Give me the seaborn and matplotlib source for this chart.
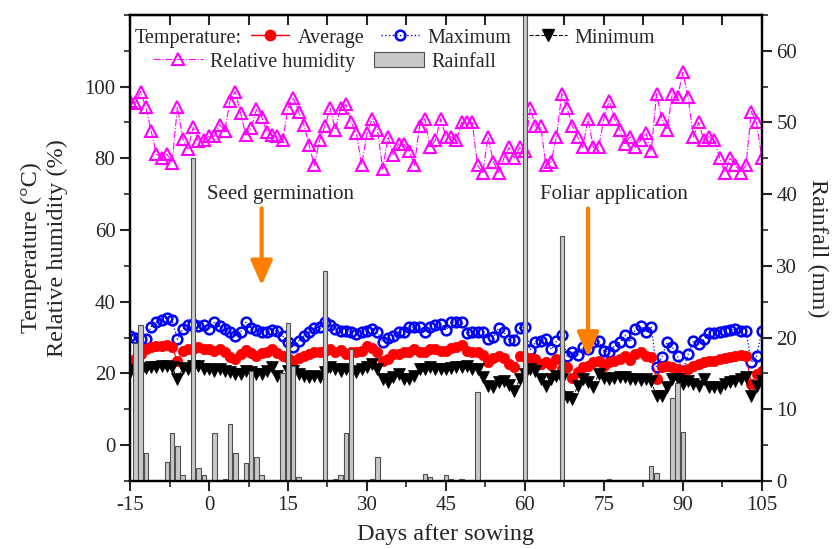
import numpy as np
import matplotlib
matplotlib.use("Agg")
import matplotlib.pyplot as plt
import seaborn as sns
from matplotlib.lines import Line2D
from matplotlib.patches import Patch
from matplotlib.ticker import MultipleLocator

days = np.arange(-15, 106)

rh = [96, 95.5, 98.6, 94.2, 87.7, 81.1, 80.2, 81.1, 78.8, 94.4,
      85.5, 82.5, 88.6, 84.7, 85.2, 86.1, 86.1, 89.4, 87.7, 96.1,
      98.6, 92.5, 86.4, 88.3, 93.6, 91.6, 87.2, 86.4, 86.1, 85.0,
      93.9, 96.9, 93.0, 89.4, 83.8, 78.0, 85.0, 88.9, 93.9, 88.0,
      94, 95, 90, 87, 78, 87, 91, 88, 77, 86,
      81, 84, 84, 82, 78, 89, 91, 83, 85, 91,
      86, 86, 85, 90, 90, 90, 78, 76, 86, 79,
      76, 80, 83, 80, 83, 82, 94, 89, 89, 78,
      79, 86, 98, 94, 89, 86, 83, 91, 83, 83,
      91, 96, 91, 88, 84, 86, 83, 85, 87, 82,
      98, 91, 88, 98, 97, 104, 97, 86, 90, 85,
      86, 85, 80, 76, 80, 78, 76, 78, 93, 90,
      80]

t_max = [30.5, 30, 29.5, 29.5, 33, 34.3, 34.8, 35.5, 34.8, 29.5,
         32.3, 33.5, 33.7, 33.2, 33.4, 32.3, 34.2, 33.1, 32.3, 31.5,
         30.4, 31.5, 34.2, 32.6, 32, 31.5, 31.5, 32, 31.8, 30.4,
         28.7, 27.3, 29, 30.4, 31.5, 32.6, 32.9, 34.3, 33.5, 32.3,
         31.8, 31.8, 31.5, 31, 31.5, 31.8, 32.3, 31.5, 28.7, 29.8,
         30.4, 31.5, 31.5, 32.9, 32.9, 32.9, 31.5, 32.9, 33.4, 33.7,
         32, 34.3, 34.3, 34.3, 31.2, 31.5, 31.5, 31.5, 29.5, 30.1,
         32.6, 31.5, 29.2, 29.2, 32.6, 32.9, 26.5, 28.7, 29, 29.5,
         26.7, 29, 30.6, 24.8, 25.9, 25.1, 27.3, 26.7, 28.7, 29,
         26.2, 25.9, 27.6, 28.7, 30.6, 28.7, 32.3, 33.1, 31.5, 32.9,
         21.7, 24.5, 28.7, 27.3, 24.8, 20.6, 25.3, 29, 28.1, 29.5,
         31.2, 31.2, 31.5, 31.8, 32, 32.3, 31.8, 31.8, 23.1, 24.8,
         31.8]

t_avg = [23, 24, 25.5, 26.7, 27.3, 27.6, 27.6, 27.9, 27.3, 23.4,
         26.2, 26.7, 26.7, 27.3, 26.7, 26.7, 26.2, 26.7, 25.9, 24.5,
         24, 25.3, 26.5, 25.6, 24.8, 25.6, 25.9, 26.7, 25.6, 24.8,
         24.2, 23.4, 24.2, 24.8, 25.3, 25.9, 25.9, 26.2, 26.7, 25.9,
         26.5, 25.3, 25.9, 25.9, 26.2, 27.6, 27, 25.9, 23.4, 24,
         25.3, 25.3, 25.9, 25.9, 26.7, 25.9, 25.9, 26.7, 26.7, 26.2,
         26.2, 27, 27.3, 27.9, 26.2, 25.9, 25.9, 25.1, 23.1, 24.2,
         24.8, 24.2, 22.6, 21.7, 24.8, 24.5, 24.2, 24, 22.6, 23.1,
         22.3, 24, 21.2, 21.7, 18.7, 20.3, 21.7, 22, 23.1, 23.4,
         22, 23.1, 23.4, 24, 24.8, 23.7, 25.3, 25.9, 24.8, 24.5,
         18.4, 21.7, 22, 21.7, 21.2, 18.7, 21.2, 22, 22.6, 23.1,
         23.4, 23.4, 24, 24.2, 24.5, 24.8, 25.1, 24.8, 17, 19.8,
         20.6]

t_min = [20.5, 21, 20.6, 21.4, 21.7, 21.7, 22, 22, 21.7, 18.4,
         21.4, 21.2, 22, 22, 21.2, 21.2, 20.6, 21.2, 20.6, 20.3,
         19.8, 19.8, 20.6, 20.3, 19.8, 19.8, 20.6, 21.7, 19.2, 18.4,
         20.6, 20.6, 19.8, 19.2, 18.9, 19.2, 18.9, 20.3, 21.7, 21.2,
         20.6, 21.2, 20.6, 20.3, 21.2, 21.7, 22.6, 21.2, 18.4, 17.5,
         18.9, 19.8, 18.4, 18.4, 19.2, 21.2, 21.2, 21.7, 21.2, 21.2,
         21.2, 21.4, 21.7, 21.7, 22, 21.2, 21.2, 18.9, 16.4, 16.2,
         17.5, 17.8, 16.7, 15, 18.4, 19.8, 21.2, 20.6, 18.4, 16.4,
         18.4, 19.2, 18.4, 13.4, 12.8, 16.4, 18.4, 17.5, 16.2, 19.8,
         18.7, 18.4, 18.7, 18.9, 18.9, 18.4, 18.4, 18.1, 18.4, 17.8,
         13.6, 13.6, 16.2, 18.4, 18.4, 17, 17.8, 17, 16.4, 18.4,
         16.2, 16.2, 15.9, 17, 17.5, 17.8, 18.4, 18.9, 13.6, 16.4,
         17.8]

rain_days = [-14, -13, -12, -8, -7, -6, -5, -3, -2, -1, 1, 3, 4, 5, 7, 8, 9, 10,
             14, 15, 16, 17, 22, 24, 25, 26, 27, 31, 32, 41, 42, 45, 46, 48, 51,
             60, 67, 76, 84, 85, 88, 89, 90]
rain_mm = [19.2, 21.7, 3.9, 2.6, 6.7, 4.9, 0.8, 45, 1.8, 0.8, 6.7, 0.3, 7.9, 3.9, 2.5, 15.3, 3.3, 0.8,
           15, 22, 16, 0.5, 29.3, 0.3, 0.8, 6.7, 18.4, 0.3, 3.3, 1, 0.5, 0.8, 0.3, 0.3, 12.4,
           70, 34.1, 0.3, 2.1, 1.1, 11.6, 13.6, 6.8]

sns.set_style("ticks")
plt.rcParams['font.family'] = ['Liberation Serif', 'DejaVu Serif']
plt.rcParams['axes.unicode_minus'] = False

fig, ax = plt.subplots(figsize=(8.39, 5.49), dpi=100)
fig.subplots_adjust(left=0.155, right=0.908, top=0.973, bottom=0.124)

sns.lineplot(x=days, y=rh, ax=ax, color='#ff00ff', linestyle='-.', linewidth=0.8,
             marker='^', markersize=9, markerfacecolor='none',
             markeredgecolor='#ff00ff', markeredgewidth=1.5)
sns.lineplot(x=days, y=t_max, ax=ax, color='#0000ff', linestyle=':', linewidth=0.9,
             marker='o', markersize=7, markerfacecolor='none',
             markeredgecolor='#0000ff', markeredgewidth=1.8)
sns.lineplot(x=days, y=t_avg, ax=ax, color='#ff0000', linestyle='-', linewidth=0.8,
             marker='o', markersize=7.5, markerfacecolor='#ff0000',
             markeredgecolor='#ff0000', markeredgewidth=0.5)
sns.lineplot(x=days, y=t_min, ax=ax, color='black', linestyle='--', linewidth=0.7,
             marker='v', markersize=8, markerfacecolor='black',
             markeredgecolor='black', markeredgewidth=0.5)

ax2 = ax.twinx()
ax2.bar(rain_days, rain_mm, width=0.85, color='#c8c8c8', edgecolor='#505050', linewidth=0.8)

ax.set_xlim(-15, 105)
ax.set_ylim(-10, 120)
ax2.set_ylim(0, 65)

ax.xaxis.set_major_locator(MultipleLocator(15))
ax.xaxis.set_minor_locator(MultipleLocator(7.5))
ax.yaxis.set_major_locator(MultipleLocator(20))
ax.yaxis.set_minor_locator(MultipleLocator(10))
ax.set_yticks([0, 20, 40, 60, 80, 100])
ax2.yaxis.set_major_locator(MultipleLocator(10))
ax2.yaxis.set_minor_locator(MultipleLocator(5))

ax.tick_params(axis='both', which='major', direction='out', length=7, width=1.5, labelsize=15)
ax.tick_params(axis='both', which='minor', direction='out', length=4, width=1.2)
ax2.tick_params(axis='y', which='major', direction='out', length=7, width=1.5, labelsize=15)
ax2.tick_params(axis='y', which='minor', direction='out', length=4, width=1.2)

top = ax.secondary_xaxis('top')
top.xaxis.set_major_locator(MultipleLocator(15))
top.xaxis.set_minor_locator(MultipleLocator(7.5))
top.tick_params(which='both', direction='in', length=7, width=1.5, labeltop=False)

for a in (ax, ax2):
    for s in a.spines.values():
        s.set_linewidth(1.6)
        s.set_color('black')
top.spines['top'].set_linewidth(1.6)

ax.set_xlabel('Days after sowing', fontsize=17.5, labelpad=7)
ax.set_ylabel('Temperature (°C)\nRelative humidity (%)', fontsize=17.5, linespacing=1.25, labelpad=12)
ax2.set_ylabel('Rainfall (mm)', fontsize=17.5, rotation=270, labelpad=22)

ax.text(13.5, 70, 'Seed germination', fontsize=15, ha='center', va='center')
ax.text(76.9, 70, 'Foliar application', fontsize=15, ha='center', va='center')
arrow = dict(arrowstyle='-|>,head_width=0.33,head_length=0.75', color='#ff8000',
             lw=3, shrinkA=0, shrinkB=0, mutation_scale=20)
ax.annotate('', xy=(10, 44.5), xytext=(10, 66), arrowprops=arrow)
ax.annotate('', xy=(72, 24.5), xytext=(72, 66), arrowprops=arrow)

h_avg = Line2D([], [], color='#ff0000', ls='-', lw=1, marker='o', ms=7.5,
               mfc='#ff0000', mec='#ff0000')
h_max = Line2D([], [], color='#0000ff', ls=':', lw=1, marker='o', ms=7,
               mfc='none', mec='#0000ff', mew=1.8)
h_min = Line2D([], [], color='black', ls='--', lw=0.8, marker='v', ms=8)
h_rh = Line2D([], [], color='#ff00ff', ls='-.', lw=0.8, marker='^', ms=9,
              mfc='none', mec='#ff00ff', mew=1.5)
h_rain = Patch(facecolor='#c8c8c8', edgecolor='#505050', linewidth=0.8)

fig.text(135 / 839, 1 - 38 / 549, 'Temperature:', fontsize=14.5, ha='left', va='center')
leg1 = ax2.legend([h_avg, h_max, h_min], ['Average', 'Maximum', 'Minimum'],
                  loc='center left', bbox_to_anchor=(251 / 839, 1 - 38 / 549),
                  bbox_transform=fig.transFigure, ncol=3, frameon=False, fontsize=14.5,
                  handlelength=1.9, handletextpad=0.4, columnspacing=0.85,
                  borderpad=0, borderaxespad=0)
ax2.add_artist(leg1)
ax2.legend([h_rh, h_rain], ['Relative humidity', 'Rainfall'],
           loc='center left', bbox_to_anchor=(153 / 839, 1 - 62 / 549),
           bbox_transform=fig.transFigure, ncol=2, frameon=False, fontsize=14.5,
           handlelength=2.5, handletextpad=0.35, columnspacing=0.9,
           borderpad=0, borderaxespad=0)

plt.savefig('out.png', dpi=100)
